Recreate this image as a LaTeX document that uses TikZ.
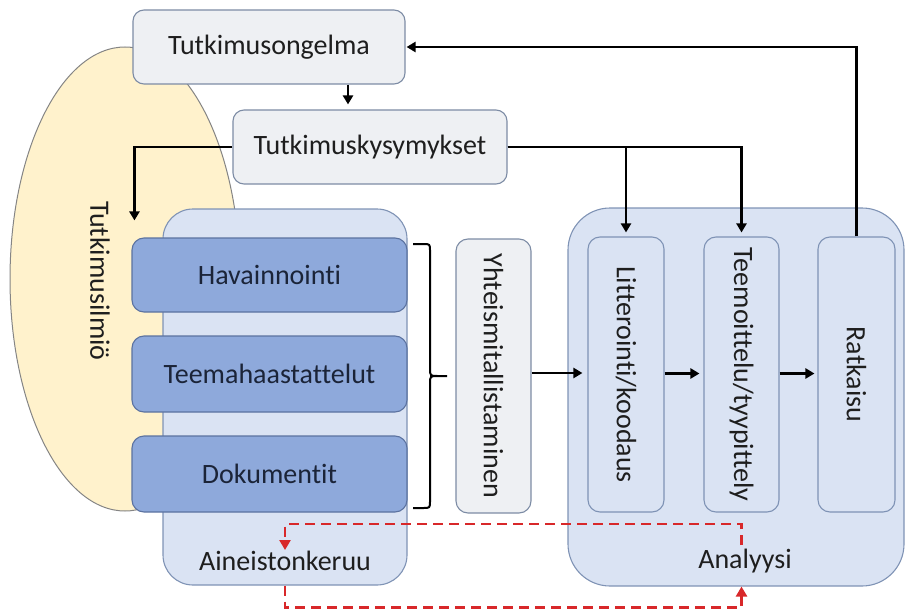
\documentclass[tikz,border=0pt]{standalone}
\usepackage{fontspec}
\setmainfont[RawFeature={-liga;-clig;-dlig;-calt}]{Carlito}
\usetikzlibrary{shapes.geometric,arrows.meta}

\definecolor{grayfill}{HTML}{EEF0F3}
\definecolor{grayline}{HTML}{7D8CA5}
\definecolor{lightblue}{HTML}{DAE3F3}
\definecolor{lightblueline}{HTML}{7F93B5}
\definecolor{darkblue}{HTML}{8EA9DB}
\definecolor{darkblueline}{HTML}{5B72A0}
\definecolor{yellowfill}{HTML}{FFF2CC}
\definecolor{yellowline}{HTML}{858585}
\definecolor{textdark}{HTML}{1E1E1E}
\definecolor{textnavy}{HTML}{1B2438}
\definecolor{dashred}{HTML}{D8282A}

\tikzset{
  lbl/.style={font=\fontsize{28}{34}\selectfont, text=textdark, inner sep=0pt},
  graybox/.style={draw=grayline, fill=grayfill, line width=1.1pt, rounded corners=11pt,
    font=\fontsize{28}{34}\selectfont, text=textdark},
  collectbox/.style={draw=darkblueline, fill=darkblue, line width=1.1pt, rounded corners=12pt,
    minimum width=275pt, font=\fontsize{28}{34}\selectfont, text=textnavy},
  container/.style={draw=lightblueline, fill=lightblue, line width=1.1pt},
  phasebox/.style={draw=lightblueline, fill=lightblue, line width=1.1pt, rounded corners=12pt,
    minimum height=275pt},
  arr/.style={draw=black, line width=2.4pt, -{Triangle[length=9pt,width=10pt]}},
  redarr/.style={draw=dashred, line width=2.5pt, dash pattern=on 10pt off 6pt,
    -{Triangle[length=10pt,width=11pt]}},
}

\begin{document}
\begin{tikzpicture}[x=1pt, y=-1pt]
\useasboundingbox (0,0) rectangle (907,615);

% research phenomenon
\node[ellipse, draw=yellowline, fill=yellowfill, line width=1pt,
      minimum width=230pt, minimum height=464pt] (ilmio) at (125,279) {};
\node[lbl, rotate=-90] (ilmiotext) at (100,281) {Tutkimusilmiö};

% top boxes
\node[graybox, minimum width=272pt, minimum height=74pt] (ongelma) at (269,47) {Tutkimusongelma};
\node[graybox, minimum width=274pt, minimum height=74pt] (kysymykset) at (370,147) {Tutkimuskysymykset};

% data collection
\node[container, rounded corners=30pt, minimum width=244pt, minimum height=376pt] (keruu) at (285,397) {};
\node[collectbox, minimum height=74pt] (havainnointi) at (269.5,275) {Havainnointi};
\node[collectbox, minimum height=76pt] (teema) at (269.5,374) {Teemahaastattelut};
\node[collectbox, minimum height=76pt] (dokumentit) at (269.5,474) {Dokumentit};
\node[lbl] (keruulabel) at (285,561) {Aineistonkeruu};

% brace gathering the three data sources
\draw[line width=2pt, black]
  (413,244) -- (423,244) .. controls (430,244) .. (430,251) -- (430,368)
  .. controls (430,376) .. (438,376) -- (447,376)
  (438,376) .. controls (430,376) .. (430,384) -- (430,501)
  .. controls (430,508) .. (423,508) -- (413,508);

% harmonisation
\node[graybox, rounded corners=12pt, minimum width=75pt, minimum height=274pt] (yht) at (493.5,376) {};
\node[lbl, rotate=-90] (yhttext) at (yht) {Yhteismitallistaminen};

% analysis
\node[container, rounded corners=42pt, minimum width=336pt, minimum height=378pt] (analyysi) at (736,397) {};
\node[phasebox, minimum width=76pt] (litt) at (626,374.5) {};
\node[lbl, rotate=-90] (litttext) at (litt) {Litterointi/koodaus};
\node[phasebox, minimum width=75pt] (teemoittelu) at (741.5,374.5) {};
\node[lbl, rotate=-90] (teemoittelutext) at (teemoittelu) {Teemoittelu/tyypittely};
\node[phasebox, minimum width=77pt] (ratkaisu) at (856.5,374.5) {};
\node[lbl, rotate=-90] (ratkaisutext) at (ratkaisu) {Ratkaisu};
\node[lbl] (analyysilabel) at (745,561) {Analyysi};

% flow arrows
\draw[arr, shorten >=5pt] ([xshift=79pt]ongelma.south) -- ([xshift=79pt]ongelma.south |- kysymykset.north);
\draw[arr, shorten >=17pt] (kysymykset.west) -| ([xshift=3pt]havainnointi.north west);
\draw[arr, shorten >=4pt] (kysymykset.east) -| (litt.north);
\draw[arr, shorten >=4pt] (kysymykset.east) -| (teemoittelu.north);
\draw[arr, shorten >=1pt] (ratkaisu.north) |- (ongelma.east);
\draw[arr, shorten >=5pt] ([yshift=3pt]yht.east) -- ([yshift=3pt]yht.east -| litt.west);
\draw[arr, shorten >=4pt] ([yshift=1pt]litt.east) -- ([yshift=1pt]litt.east -| teemoittelu.west);
\draw[arr, shorten >=3pt] ([yshift=1pt]teemoittelu.east) -- ([yshift=1pt]teemoittelu.east -| ratkaisu.west);

% feedback loop between analysis and data collection
\coordinate (fbstart) at (741.5,545);
\coordinate (fbend) at (285,550);
\draw[redarr] (fbstart) -- (741.5,524) -| (fbend);
\draw[redarr] (keruu.south) -- ++(0,22) -| (teemoittelu.south |- analyysi.south);
\end{tikzpicture}
\end{document}
